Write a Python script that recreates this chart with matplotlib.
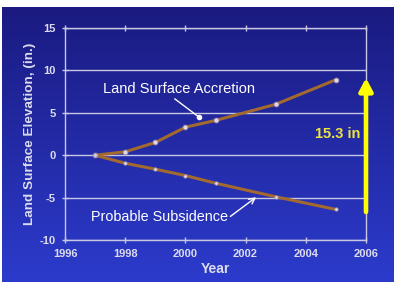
import numpy as np
import matplotlib.pyplot as plt
from matplotlib.colors import LinearSegmentedColormap

plt.rcParams['font.family'] = ['Liberation Sans', 'DejaVu Sans']
plt.rcParams['axes.unicode_minus'] = False

# data
years_acc = [1997, 1998, 1999, 2000, 2001, 2003, 2005]
accretion = [0.0, 0.4, 1.5, 3.3, 4.1, 6.0, 8.9]
years_sub = [1997, 1998, 1999, 2000, 2001, 2003, 2005]
subsidence = [0.0, -0.95, -1.65, -2.4, -3.3, -4.9, -6.4]
xticks = [1996, 1998, 2000, 2002, 2004, 2006]
yticks = [-10, -5, 0, 5, 10, 15]

fg = '#dcdcec'
line_col = '#a26a2e'

fig = plt.figure(figsize=(3.94, 2.82), dpi=100)

# background: beige strip on top/left, blue gradient below
bg = fig.add_axes([0, 0, 1, 1])
bg.set_facecolor('#e8e4d0')
bg.axis('off')
grad = fig.add_axes([2/394, 0, 1 - 2/394, 1 - 7/282])
cmap = LinearSegmentedColormap.from_list('bl', ['#1a1a80', '#2c3bcc'])
grad.imshow(np.linspace(0, 1, 256).reshape(-1, 1), aspect='auto', cmap=cmap,
            extent=[0, 1, 0, 1], origin='upper')
grad.axis('off')

ax = fig.add_axes([65/394, 1 - 240/282, (366 - 65)/394, (240 - 28)/282])
ax.patch.set_alpha(0)

ax.plot(years_acc, accretion, color=line_col, lw=2.2, zorder=3)
ax.plot(years_acc, accretion, 'o', ms=3.5, mfc='#e0d8e8', mec='#9a8aa8', mew=0.6, zorder=4)
ax.plot(years_sub, subsidence, color=line_col, lw=2.2, zorder=3)
ax.plot(years_sub, subsidence, 'o', ms=2.5, mfc='#e0d8e8', mec='#9a8aa8', mew=0.5, zorder=4)

ax.set_xlim(1996, 2006)
ax.set_ylim(-10, 15)
ax.set_xticks(xticks)
ax.set_yticks(yticks)
ax.grid(axis='y', color='#c8c8e4', lw=1.0)
ax.set_axisbelow(True)
for s in ax.spines.values():
    s.set_color('#c8c8e4')
    s.set_linewidth(1.0)
ax.tick_params(colors='#c8c8e4', direction='inout', length=5, width=1,
               top=True, labelcolor=fg, labelsize=8)
ax.tick_params(axis='x', pad=4)
ax.tick_params(axis='y', pad=4)
for lab in ax.get_xticklabels() + ax.get_yticklabels():
    lab.set_fontweight('bold')

ax.set_xlabel('Year', color=fg, fontsize=10, fontweight='bold', labelpad=2)
ax.set_ylabel('Land Surface Elevation, (in.)', color=fg, fontsize=9.7,
              fontweight='bold', labelpad=3)

ax.annotate('Land Surface Accretion', xy=(2000.45, 4.5), xytext=(1997.25, 7.8),
            color='white', fontsize=10.5, va='center', ha='left',
            arrowprops=dict(arrowstyle='-', color='white', lw=1,
                            shrinkA=0, shrinkB=0,
                            relpos=(0.45, 0.0)))
ax.plot([2000.45], [4.5], 'o', ms=3, color='white', zorder=5)
ax.annotate('Probable Subsidence', xy=(2002.35, -4.95), xytext=(1996.85, -7.3),
            color='white', fontsize=10.4, va='center', ha='left',
            arrowprops=dict(arrowstyle='->', color='white', lw=1,
                            shrinkA=0, shrinkB=0, relpos=(1.0, 0.4)))

# yellow arrow showing total difference
ax.annotate('', xy=(2006, 9.1), xytext=(2006, -6.7),
            arrowprops=dict(arrowstyle='-|>,head_width=0.4,head_length=0.75',
                            color='#ffff00', lw=3.3, shrinkA=0, shrinkB=0),
            annotation_clip=False, zorder=6)
ax.text(2005.8, 2.5, '15.3 in', color='#ece440', fontsize=10.5, fontweight='bold',
        ha='right', va='center')

fig.savefig('out.png', dpi=100)
